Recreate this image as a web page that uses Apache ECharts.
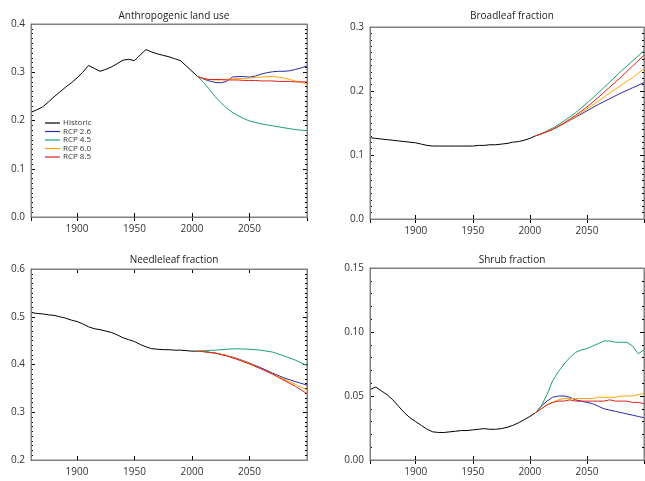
<!DOCTYPE html>
<html>
<head>
<meta charset="utf-8">
<script src="https://cdn.jsdelivr.net/npm/echarts@6/dist/echarts.min.js"></script>
<style>
  html, body { margin: 0; padding: 0; background: #fff; }
  #chart { width: 645px; height: 481px; }
</style>
</head>
<body>
<div id="chart"></div>
<script>
// years
const histYears = [1860, 1865, 1870, 1875, 1880, 1885, 1890, 1895, 1900, 1905, 1910, 1915, 1920, 1925, 1930,
  1935, 1940, 1945, 1950, 1955, 1960, 1965, 1970, 1975, 1980, 1985, 1990, 1995, 2000, 2005];
const futYears5 = [2005, 2010, 2015, 2020, 2025, 2030, 2035, 2040, 2045, 2050, 2055, 2060, 2065, 2070, 2075,
  2080, 2085, 2090, 2095, 2100];
const futYears10 = [2005, 2010, 2020, 2030, 2040, 2050, 2060, 2070, 2080, 2090, 2100];
const xTickYears = [1900, 1950, 2000, 2050];

const scenarios = ['Historic', 'RCP 2.6', 'RCP 4.5', 'RCP 6.0', 'RCP 8.5'];
const titles = ['Anthropogenic land use', 'Broadleaf fraction', 'Needleleaf fraction', 'Shrub fraction'];

// Anthropogenic land use
const landHist = [0.217, 0.222, 0.228, 0.238, 0.249, 0.259, 0.269, 0.278, 0.288, 0.300, 0.314, 0.308, 0.302, 0.306, 0.311,
  0.318, 0.325, 0.327, 0.324, 0.336, 0.347, 0.342, 0.338, 0.335, 0.332, 0.328, 0.324, 0.313, 0.302, 0.291];
const land26 = [0.291, 0.286, 0.282, 0.279, 0.278, 0.281, 0.290, 0.291, 0.291, 0.290, 0.292, 0.296, 0.299, 0.301, 0.302,
  0.302, 0.303, 0.306, 0.309, 0.313];
const land45 = [0.291, 0.279, 0.265, 0.250, 0.237, 0.226, 0.217, 0.210, 0.204, 0.199, 0.196, 0.193, 0.191, 0.189, 0.187,
  0.185, 0.183, 0.181, 0.180, 0.179];
const land60 = [0.291, 0.287, 0.285, 0.284, 0.284, 0.285, 0.286, 0.287, 0.287, 0.288, 0.289, 0.290, 0.291, 0.291, 0.290,
  0.288, 0.285, 0.282, 0.279, 0.276];
const land85 = [0.291, 0.287, 0.285, 0.285, 0.285, 0.284, 0.284, 0.284, 0.283, 0.283, 0.283, 0.282, 0.282, 0.282, 0.281,
  0.281, 0.281, 0.280, 0.280, 0.280];

// Broadleaf fraction
const broadHist = [0.127, 0.126, 0.125, 0.124, 0.123, 0.122, 0.121, 0.120, 0.119, 0.117, 0.115, 0.114, 0.114, 0.114, 0.114,
  0.114, 0.114, 0.114, 0.114, 0.115, 0.115, 0.116, 0.116, 0.117, 0.118, 0.120, 0.121, 0.123, 0.126, 0.130];
const broad26 = [0.130, 0.133, 0.140, 0.149, 0.159, 0.169, 0.179, 0.188, 0.197, 0.205, 0.213];
const broad45 = [0.130, 0.133, 0.142, 0.153, 0.166, 0.181, 0.197, 0.214, 0.231, 0.247, 0.263];
const broad60 = [0.130, 0.133, 0.140, 0.149, 0.160, 0.172, 0.184, 0.197, 0.209, 0.221, 0.235];
const broad85 = [0.130, 0.133, 0.140, 0.150, 0.162, 0.175, 0.190, 0.206, 0.222, 0.239, 0.256];

// Needleleaf fraction
const needleHist = [0.509, 0.507, 0.506, 0.504, 0.503, 0.500, 0.497, 0.493, 0.490, 0.485, 0.479, 0.475, 0.473, 0.470, 0.467,
  0.462, 0.456, 0.452, 0.448, 0.442, 0.437, 0.433, 0.432, 0.431, 0.431, 0.430, 0.430, 0.429, 0.428, 0.428];
const needle26 = [0.428, 0.427, 0.424, 0.419, 0.412, 0.403, 0.393, 0.382, 0.372, 0.364, 0.357];
const needle45 = [0.428, 0.429, 0.430, 0.432, 0.433, 0.432, 0.430, 0.426, 0.418, 0.409, 0.398];
const needle60 = [0.428, 0.427, 0.424, 0.419, 0.411, 0.402, 0.391, 0.380, 0.369, 0.358, 0.347];
const needle85 = [0.428, 0.427, 0.424, 0.418, 0.410, 0.401, 0.391, 0.380, 0.367, 0.354, 0.339];

// Shrub fraction
const shrubHist = [0.055, 0.057, 0.054, 0.051, 0.047, 0.042, 0.037, 0.033, 0.030, 0.027, 0.024, 0.022, 0.0215, 0.0215, 0.022,
  0.0225, 0.023, 0.023, 0.0235, 0.024, 0.0245, 0.024, 0.024, 0.0245, 0.0255, 0.027, 0.029, 0.0315, 0.034, 0.037];
const shrub26 = [0.037, 0.042, 0.046, 0.049, 0.050, 0.050, 0.049, 0.047, 0.046, 0.045, 0.044, 0.042, 0.040, 0.039, 0.038,
  0.037, 0.036, 0.035, 0.034, 0.033];
const shrub45 = [0.037, 0.042, 0.051, 0.062, 0.069, 0.075, 0.080, 0.084, 0.086, 0.087, 0.089, 0.091, 0.093, 0.093, 0.092,
  0.092, 0.092, 0.089, 0.083, 0.086];
const shrub60 = [0.037, 0.040, 0.043, 0.045, 0.047, 0.048, 0.048, 0.048, 0.048, 0.048, 0.048, 0.049, 0.049, 0.049, 0.049,
  0.050, 0.050, 0.050, 0.051, 0.052];
const shrub85 = [0.037, 0.040, 0.043, 0.045, 0.046, 0.046, 0.047, 0.046, 0.046, 0.046, 0.046, 0.046, 0.046, 0.047, 0.046,
  0.046, 0.046, 0.045, 0.045, 0.044];

const colors = ['#000000', '#2a2aa8', '#1a9e78', '#ffa500', '#e0201e'];
const font = 'Open Sans';

// panel layout and y axis ranges
const panels = [
  { grid: { left: 31, top: 24, width: 276, height: 193 }, min: 0, max: 0.4, step: 0.1, dec: 1, minor: 10,
    years: futYears5, data: [landHist, land26, land45, land60, land85], titleTop: 6 },
  { grid: { left: 370, top: 27, width: 274, height: 192 }, min: 0, max: 0.3, step: 0.1, dec: 1, minor: 10,
    years: futYears10, data: [broadHist, broad26, broad45, broad60, broad85], titleTop: 6 },
  { grid: { left: 31, top: 269, width: 276, height: 191 }, min: 0.2, max: 0.6, step: 0.1, dec: 1, minor: 10,
    years: futYears10, data: [needleHist, needle26, needle45, needle60, needle85], titleTop: 250 },
  { grid: { left: 370, top: 268, width: 274, height: 192 }, min: 0, max: 0.15, step: 0.05, dec: 2, minor: 5,
    years: futYears5, data: [shrubHist, shrub26, shrub45, shrub60, shrub85], titleTop: 250 }
];

function pairs(xs, ys) {
  return xs.map((x, i) => [x, ys[i]]);
}

const grids = [], xAxes = [], yAxes = [], series = [], title = [], frames = [];

panels.forEach((p, i) => {
  const g = p.grid;
  grids.push({ show: true, borderColor: 'gray', borderWidth: 1,
    left: g.left, top: g.top, width: g.width, height: g.height });

  // box around each panel, same rectangle as the grid, kept above the lines
  frames.push({ type: 'rect', silent: true, z: 100,
    shape: { x: g.left + 0.5, y: g.top + 0.5, width: g.width, height: g.height },
    style: { fill: null, stroke: 'gray', lineWidth: 1 } });

  title.push({
    text: titles[i],
    left: g.left + g.width / 2,
    top: p.titleTop,
    textAlign: 'center',
    textStyle: { fontFamily: font, fontSize: 10, fontWeight: 'normal', color: '#222' }
  });

  // bottom x axis with labels, second one goes to the top
  xAxes.push({
    type: 'value', gridIndex: i, min: 1860, max: 2100,
    axisLine: { show: true, lineStyle: { color: 'dimgray', width: 1 } },
    axisTick: { show: true, inside: true, length: 4, lineStyle: { color: 'black', width: 1 } },
    axisLabel: { customValues: xTickYears, fontFamily: font, fontSize: 10, color: '#333', margin: 7,
      formatter: v => String(v) },
    splitLine: { show: false }
  });
  xAxes.push({
    type: 'value', gridIndex: i, min: 1860, max: 2100,
    axisLine: { show: true, lineStyle: { color: 'darkgray', width: 1 } },
    axisTick: { show: true, inside: true, length: 4, lineStyle: { color: 'black', width: 1 } },
    axisLabel: { customValues: xTickYears, color: 'rgba(0,0,0,0)', formatter: v => String(v) },
    splitLine: { show: false }
  });

  // left y axis with labels, second one goes to the right
  yAxes.push({
    type: 'value', gridIndex: i, min: p.min, max: p.max, interval: p.step,
    axisLine: { show: true, lineStyle: { color: 'gray', width: 1 } },
    axisTick: { show: true, inside: true, length: 4, lineStyle: { color: 'black', width: 1 } },
    minorTick: { show: true, splitNumber: p.minor, length: 2, lineStyle: { color: 'black', width: 1 } },
    axisLabel: { fontFamily: font, fontSize: 10, color: '#333', margin: 6, formatter: v => v.toFixed(p.dec) },
    splitLine: { show: false }
  });
  yAxes.push({
    type: 'value', gridIndex: i, min: p.min, max: p.max, interval: p.step,
    axisLine: { show: true, lineStyle: { color: 'darkgray', width: 1 } },
    axisTick: { show: true, inside: true, length: 4, lineStyle: { color: 'black', width: 1 } },
    minorTick: { show: true, splitNumber: p.minor, length: 2, lineStyle: { color: 'black', width: 1 } },
    axisLabel: { show: false },
    splitLine: { show: false }
  });

  scenarios.forEach((name, k) => {
    const xs = k === 0 ? histYears : p.years;
    series.push({
      name: name, type: 'line',
      xAxisIndex: i * 2, yAxisIndex: i * 2,
      data: pairs(xs, p.data[k]),
      symbol: 'none',
      color: colors[k],
      lineStyle: { color: colors[k], width: 1 }
    });
  });
});

const chart = echarts.init(document.getElementById('chart'));
chart.setOption({
  backgroundColor: '#fff',
  animation: false,
  title: title,
  legend: {
    data: scenarios.map(s => ({ name: s, icon: 'rect' })),
    orient: 'vertical',
    left: 45, top: 119, padding: 0,
    itemWidth: 15, itemHeight: 1.2, itemGap: 0.5,
    textStyle: { fontFamily: font, fontSize: 8, lineHeight: 7, color: '#333', padding: [0, 0, 0, -2] }
  },
  grid: grids,
  xAxis: xAxes,
  yAxis: yAxes,
  graphic: frames,
  series: series
});
</script>
</body>
</html>
